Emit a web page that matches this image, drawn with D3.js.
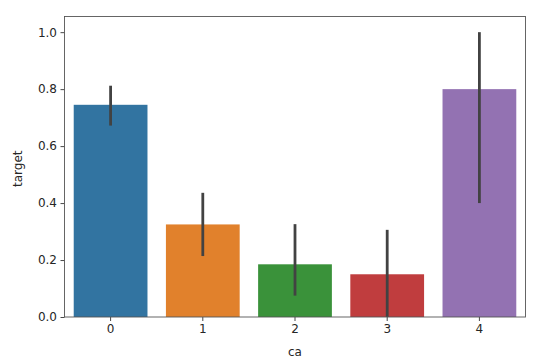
<!DOCTYPE html>
<html><head><meta charset="utf-8">
<script src="https://cdn.jsdelivr.net/npm/d3@7"></script>
<style>body{margin:0;background:#fff}svg{display:block}text{font-family:"DejaVu Sans",sans-serif}</style>
</head><body>
<script>
const categories = ["0","1","2","3","4"];
const means = [0.745, 0.325, 0.185, 0.150, 0.800];
const ciLow = [0.672, 0.214, 0.075, 0.000, 0.400];
const ciHigh = [0.812, 0.436, 0.326, 0.306, 1.000];
const colors = ["#3274a1","#e1812c","#3a923a","#c03d3e","#9372b2"];
const yTicks = [0.0,0.2,0.4,0.6,0.8,1.0];

const W=559,H=359;
const m={l:64.5,r:525.5,t:16.5,b:317};
const svg=d3.select("body").append("svg").attr("width",W).attr("height",H);
const x=d3.scaleBand().domain(categories).range([m.l,m.r]).paddingInner(0.2).paddingOuter(0.1);
const y=d3.scaleLinear().domain([0,1.055]).range([m.b,m.t]);

svg.selectAll("rect.bar").data(categories).enter().append("rect")
 .attr("x",d=>x(d)).attr("width",x.bandwidth())
 .attr("y",(d,i)=>y(means[i])).attr("height",(d,i)=>y(0)-y(means[i]))
 .attr("fill",(d,i)=>colors[i]);

svg.selectAll("line.err").data(categories).enter().append("line")
 .attr("x1",d=>x(d)+x.bandwidth()/2).attr("x2",d=>x(d)+x.bandwidth()/2)
 .attr("y1",(d,i)=>y(ciLow[i])).attr("y2",(d,i)=>y(ciHigh[i]))
 .attr("stroke","#424242").attr("stroke-width",2.8);

const gx=svg.append("g").attr("transform",`translate(0,${m.b})`)
 .call(d3.axisBottom(x).tickSize(4).tickPadding(3));
const gy=svg.append("g").attr("transform",`translate(${m.l},0)`)
 .call(d3.axisLeft(y).tickValues(yTicks).tickFormat(d3.format(".1f")).tickSize(4).tickPadding(3.5));
[gx,gy].forEach(g=>{g.select(".domain").remove();g.selectAll("line").attr("stroke","#333").attr("stroke-width",0.9);
 g.selectAll("text").attr("font-size","12px").attr("fill","#262626").attr("font-family","DejaVu Sans");});

svg.append("rect").attr("x",m.l).attr("y",m.t).attr("width",m.r-m.l).attr("height",m.b-m.t)
 .attr("fill","none").attr("stroke","#555").attr("stroke-width",0.9);

svg.append("text").attr("x",(m.l+m.r)/2).attr("y",356).attr("text-anchor","middle")
 .attr("font-size","12px").attr("fill","#262626").text("ca");
svg.append("text").attr("transform",`translate(22,${(m.t+m.b)/2+2}) rotate(-90)`).attr("text-anchor","middle")
 .attr("font-size","12px").attr("fill","#262626").text("target");
</script>
</body></html>
